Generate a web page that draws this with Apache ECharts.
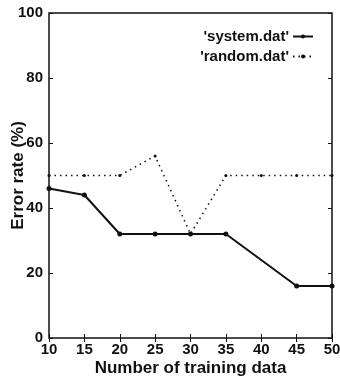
<!DOCTYPE html>
<html>
<head>
<meta charset="utf-8">
<script src="https://cdn.jsdelivr.net/npm/echarts@6/dist/echarts.min.js"></script>
<style>
  html, body { margin: 0; padding: 0; background: #fff; }
  #chart { width: 340px; height: 379px; }
</style>
</head>
<body>
<div id="chart"></div>
<script>
// values
const systemX = [10, 15, 20, 25, 30, 35, 45, 50];
const systemY = [46, 44, 32, 32, 32, 32, 16, 16];
const randomX = [10, 15, 20, 25, 30, 35, 40, 45, 50];
const randomY = [50, 50, 50, 56, 32, 50, 50, 50, 50];
const xTicks = [10, 15, 20, 25, 30, 35, 40, 45, 50];

const font = "Liberation Sans";
const ink = "#111";

const chart = echarts.init(document.getElementById("chart"));

const pairs = (xs, ys) => xs.map((x, i) => [x, ys[i]]);

const tickOnly = {
  show: true,
  axisLine: { show: false },
  axisTick: { show: true, inside: true, length: 4, lineStyle: { color: ink, width: 1 } },
  axisLabel: { show: false },
  splitLine: { show: false }
};

const labelStyle = { fontFamily: font, fontSize: 15, fontWeight: "bold", color: ink };
const nameStyle = { fontFamily: font, fontSize: 17, fontWeight: "bold", color: ink };

chart.setOption({
  animation: false,
  backgroundColor: "#fff",
  textStyle: { fontFamily: font, color: ink },
  grid: {
    left: 49, right: 8, top: 13, bottom: 41,
    containLabel: false, outerBoundsMode: "none",
    show: true, borderColor: ink, borderWidth: 1.5
  },
  legend: {
    orient: "vertical",
    right: 21,
    top: 24,
    align: "right",
    itemWidth: 20,
    itemHeight: 5,
    itemGap: 5,
    textStyle: Object.assign({ padding: [0, -1, 0, 0] }, labelStyle),
    data: ["'system.dat'", "'random.dat'"]
  },
  xAxis: [
    {
      type: "value",
      min: 10,
      max: 50,
      interval: 5,
      name: "Number of training data",
      nameLocation: "middle",
      nameGap: 22,
      nameMoveOverlap: false,
      nameTextStyle: nameStyle,
      axisLine: { show: false },
      axisTick: { show: true, inside: true, length: 4, lineStyle: { color: ink } },
      axisLabel: Object.assign({ margin: 4, customValues: xTicks }, labelStyle),
      splitLine: { show: false }
    },
    Object.assign({ type: "value", position: "top", min: 10, max: 50, interval: 5 }, tickOnly)
  ],
  yAxis: [
    {
      type: "value",
      min: 0,
      max: 100,
      interval: 20,
      name: "Error rate (%)",
      nameLocation: "middle",
      nameGap: 22,
      nameMoveOverlap: false,
      nameRotate: 90,
      nameTextStyle: nameStyle,
      axisLine: { show: false },
      axisTick: { show: true, inside: true, length: 4, lineStyle: { color: ink } },
      axisLabel: Object.assign({ margin: 6 }, labelStyle),
      splitLine: { show: false }
    },
    Object.assign({ type: "value", position: "right", min: 0, max: 100, interval: 20 }, tickOnly)
  ],
  series: [
    {
      name: "'system.dat'",
      type: "line",
      data: pairs(systemX, systemY),
      symbol: "circle",
      symbolSize: 5,
      itemStyle: { color: ink },
      lineStyle: { color: ink, width: 2 }
    },
    {
      name: "'random.dat'",
      type: "line",
      data: pairs(randomX, randomY),
      symbol: "circle",
      symbolSize: 3,
      itemStyle: { color: ink },
      lineStyle: { color: ink, width: 1.5, type: [1.5, 4] }
    }
  ]
});
</script>
</body>
</html>
